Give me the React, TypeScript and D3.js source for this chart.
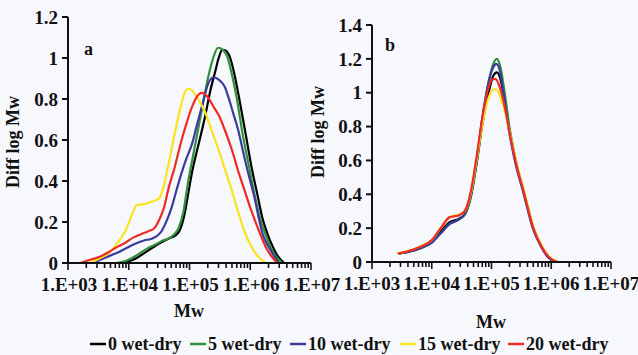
import React from "react";
import * as d3 from "d3";

type Pt = [number, number]; // [log10 Mw, Diff log Mw]

const seriesNames = ["0 wet-dry", "5 wet-dry", "10 wet-dry", "15 wet-dry", "20 wet-dry"];
const seriesColors = ["#000000", "#2f8f3c", "#3b3a9e", "#f7e51e", "#ee2b24"];

const xTickLabels = ["1.E+03", "1.E+04", "1.E+05", "1.E+06", "1.E+07"];
const yTicksA = [0, 0.2, 0.4, 0.6, 0.8, 1, 1.2];
const yTicksB = [0, 0.2, 0.4, 0.6, 0.8, 1, 1.2, 1.4];

// Panel a
const a0: Pt[] = [[3.9,0],[4.1,0.02],[4.33,0.063],[4.5,0.095],[4.66,0.12],[4.77,0.135],[4.84,0.16],[4.92,0.24],[4.98,0.34],[5.04,0.44],[5.15,0.58],[5.26,0.72],[5.35,0.85],[5.42,0.93],[5.48,1.0],[5.54,1.04],[5.6,1.035],[5.67,1.0],[5.74,0.92],[5.82,0.8],[5.93,0.62],[6.02,0.47],[6.12,0.33],[6.2,0.22],[6.28,0.145],[6.37,0.08],[6.45,0.035],[6.56,0]];
const a5: Pt[] = [[3.79,0],[3.95,0.01],[4.17,0.045],[4.3,0.07],[4.44,0.09],[4.56,0.11],[4.66,0.12],[4.75,0.14],[4.82,0.17],[4.9,0.25],[4.98,0.4],[5.07,0.54],[5.15,0.665],[5.23,0.79],[5.31,0.91],[5.39,1.0],[5.47,1.05],[5.55,1.04],[5.63,1.0],[5.69,0.93],[5.78,0.8],[5.88,0.62],[5.98,0.47],[6.08,0.32],[6.17,0.21],[6.25,0.14],[6.34,0.075],[6.42,0.033],[6.53,0]];
const a10: Pt[] = [[3.41,0],[3.6,0.025],[3.79,0.047],[4.06,0.088],[4.25,0.11],[4.39,0.12],[4.55,0.16],[4.63,0.21],[4.71,0.275],[4.79,0.36],[4.87,0.44],[4.95,0.51],[5.04,0.58],[5.12,0.67],[5.2,0.76],[5.31,0.876],[5.39,0.906],[5.48,0.895],[5.58,0.86],[5.65,0.8],[5.72,0.73],[5.8,0.65],[5.9,0.52],[6.0,0.4],[6.07,0.32],[6.14,0.22],[6.2,0.145],[6.3,0.08],[6.39,0.035],[6.47,0]];
const a15: Pt[] = [[3.36,0],[3.5,0.02],[3.68,0.05],[3.82,0.1],[3.95,0.16],[4.06,0.24],[4.13,0.283],[4.2,0.285],[4.3,0.29],[4.38,0.3],[4.5,0.315],[4.58,0.38],[4.66,0.49],[4.77,0.65],[4.87,0.78],[4.93,0.835],[4.98,0.85],[5.05,0.84],[5.12,0.81],[5.2,0.77],[5.25,0.74],[5.36,0.65],[5.47,0.56],[5.58,0.46],[5.69,0.36],[5.8,0.25],[5.91,0.15],[6.0,0.09],[6.12,0.035],[6.26,0]];
const a20: Pt[] = [[3.2,0],[3.35,0.015],[3.52,0.03],[3.68,0.055],[3.79,0.075],[3.95,0.1],[4.08,0.125],[4.2,0.14],[4.32,0.155],[4.42,0.17],[4.5,0.21],[4.58,0.27],[4.66,0.37],[4.75,0.46],[4.87,0.6],[4.96,0.69],[5.04,0.76],[5.12,0.81],[5.2,0.83],[5.3,0.81],[5.4,0.76],[5.5,0.71],[5.58,0.65],[5.7,0.55],[5.8,0.45],[5.9,0.36],[6.0,0.27],[6.1,0.19],[6.18,0.13],[6.27,0.07],[6.35,0.033],[6.45,0]];

// Panel b
const b0: Pt[] = [[3.45,0.05],[3.6,0.06],[3.8,0.08],[4.0,0.12],[4.15,0.18],[4.3,0.235],[4.45,0.255],[4.55,0.28],[4.65,0.38],[4.75,0.58],[4.85,0.82],[4.95,1.0],[5.03,1.1],[5.09,1.12],[5.15,1.08],[5.22,0.95],[5.3,0.78],[5.4,0.6],[5.55,0.4],[5.7,0.2],[5.84,0.09],[5.95,0.03],[6.08,0]];
const b5: Pt[] = [[3.45,0.05],[3.6,0.06],[3.8,0.08],[4.0,0.115],[4.15,0.17],[4.3,0.225],[4.45,0.25],[4.55,0.28],[4.65,0.38],[4.75,0.59],[4.85,0.85],[4.95,1.06],[5.03,1.17],[5.09,1.2],[5.15,1.15],[5.22,1.0],[5.3,0.8],[5.4,0.61],[5.55,0.4],[5.7,0.2],[5.84,0.09],[5.95,0.03],[6.08,0]];
const b10: Pt[] = [[3.45,0.05],[3.6,0.06],[3.8,0.08],[4.0,0.115],[4.15,0.17],[4.3,0.225],[4.45,0.25],[4.55,0.285],[4.65,0.39],[4.75,0.6],[4.85,0.86],[4.95,1.06],[5.03,1.15],[5.08,1.17],[5.14,1.13],[5.21,0.98],[5.29,0.78],[5.39,0.6],[5.54,0.4],[5.69,0.2],[5.83,0.09],[5.94,0.03],[6.07,0]];
const b15: Pt[] = [[3.42,0.05],[3.6,0.065],[3.8,0.09],[4.0,0.13],[4.15,0.2],[4.3,0.265],[4.45,0.28],[4.55,0.3],[4.65,0.4],[4.75,0.6],[4.85,0.82],[4.95,0.97],[5.03,1.02],[5.08,1.02],[5.15,0.97],[5.23,0.88],[5.31,0.76],[5.41,0.6],[5.56,0.4],[5.71,0.2],[5.85,0.09],[5.97,0.03],[6.12,0]];
const b20: Pt[] = [[3.43,0.05],[3.6,0.063],[3.8,0.088],[4.0,0.13],[4.15,0.2],[4.3,0.265],[4.45,0.275],[4.55,0.3],[4.65,0.41],[4.75,0.62],[4.85,0.86],[4.95,1.03],[5.02,1.08],[5.07,1.08],[5.14,1.03],[5.22,0.92],[5.3,0.77],[5.4,0.6],[5.55,0.4],[5.7,0.2],[5.84,0.09],[5.96,0.03],[6.1,0]];

const panelA = [a0, a5, a10, a15, a20];
const panelB = [b0, b5, b10, b15, b20];

const FONT = "'Liberation Serif', 'Times New Roman', serif";

type PanelProps = {
  data: Pt[][];
  yMax: number;
  yTicks: number[];
  x0: number; x1: number; yTop: number; yBot: number;
  labelShift: number;
  letter: string; letterX: number; letterY: number;
  titleX: number; titleY: number;
  mwX: number; mwY: number;
};

function Panel(p: PanelProps) {
  const x = d3.scaleLog().domain([1e3, 1e7]).range([p.x0, p.x1]);
  const y = d3.scaleLinear().domain([0, p.yMax]).range([p.yBot, p.yTop]);
  const line = d3
    .line<Pt>()
    .x((d) => x(Math.pow(10, d[0])))
    .y((d) => y(d[1]))
    .curve(d3.curveMonotoneX);
  const allTicks = x.ticks(40).filter((t) => t >= 1e3 && t <= 1e7);
  const majors = [1e3, 1e4, 1e5, 1e6, 1e7];
  return (
    <g>
      {p.data.map((s, i) => (
        <path key={i} d={line(s) || ""} fill="none" stroke={seriesColors[i]} strokeWidth={2.2} strokeLinejoin="round" />
      ))}
      <line x1={p.x0} x2={p.x0} y1={p.yTop} y2={p.yBot} stroke="#111" strokeWidth={2} />
      {p.yTicks.map((t) => (
        <g key={t}>
          <line x1={p.x0 - 6} x2={p.x0} y1={y(t)} y2={y(t)} stroke="#111" strokeWidth={2} />
          <text x={p.x0 - 10} y={y(t)} dy="0.35em" textAnchor="end" fontFamily={FONT} fontWeight="bold" fontSize={19} fill="#111">
            {d3.format("~g")(t)}
          </text>
        </g>
      ))}
      <line x1={p.x0} x2={p.x1} y1={p.yBot} y2={p.yBot} stroke="#111" strokeWidth={2} />
      {allTicks.map((t, i) => {
        const major = majors.some((m) => Math.abs(m - t) / m < 1e-6);
        return (
          <line key={i} x1={x(t)} x2={x(t)} y1={p.yBot} y2={p.yBot + (major ? 7 : 5)} stroke="#111" strokeWidth={1.6} />
        );
      })}
      {majors.map((m, i) => (
        <text key={m} x={x(m) + p.labelShift} y={p.yBot + 28} textAnchor="middle" fontFamily={FONT} fontWeight="bold" fontSize={19} fill="#111">
          {xTickLabels[i]}
        </text>
      ))}
      <text x={p.mwX} y={p.mwY} textAnchor="middle" fontFamily={FONT} fontWeight="bold" fontSize={18} fill="#111">Mw</text>
      <text transform={`translate(${p.titleX},${p.titleY}) rotate(-90)`} textAnchor="middle" fontFamily={FONT} fontWeight="bold" fontSize={18} fill="#111">
        Diff log Mw
      </text>
      <text x={p.letterX} y={p.letterY} fontFamily={FONT} fontWeight="bold" fontSize={18} fill="#111">{p.letter}</text>
    </g>
  );
}

export default function App() {
  const legendX = [90, 190, 290, 400, 508];
  return (
    <svg width={638} height={355} style={{ position: "absolute", left: 0, top: 0, background: "#f7f8fc" }}>
      <rect x={0} y={0} width={638} height={355} fill="#f7f8fc" />
      <Panel data={panelA} yMax={1.2} yTicks={yTicksA} x0={68} x1={311} yTop={17} yBot={263} labelShift={1}
        letter="a" letterX={84} letterY={55} titleX={19} titleY={142} mwX={189} mwY={317} />
      <Panel data={panelB} yMax={1.4} yTicks={yTicksB} x0={372} x1={611} yTop={25} yBot={262} labelShift={0}
        letter="b" letterX={385} letterY={51} titleX={324} titleY={132} mwX={491} mwY={328} />
      {seriesNames.map((n, i) => (
        <g key={n}>
          <line x1={legendX[i]} x2={legendX[i] + 16} y1={344} y2={344} stroke={seriesColors[i]} strokeWidth={2.5} />
          <text x={legendX[i] + 18} y={350} fontFamily={FONT} fontWeight="bold" fontSize={18} fill="#111">{n}</text>
        </g>
      ))}
    </svg>
  );
}
